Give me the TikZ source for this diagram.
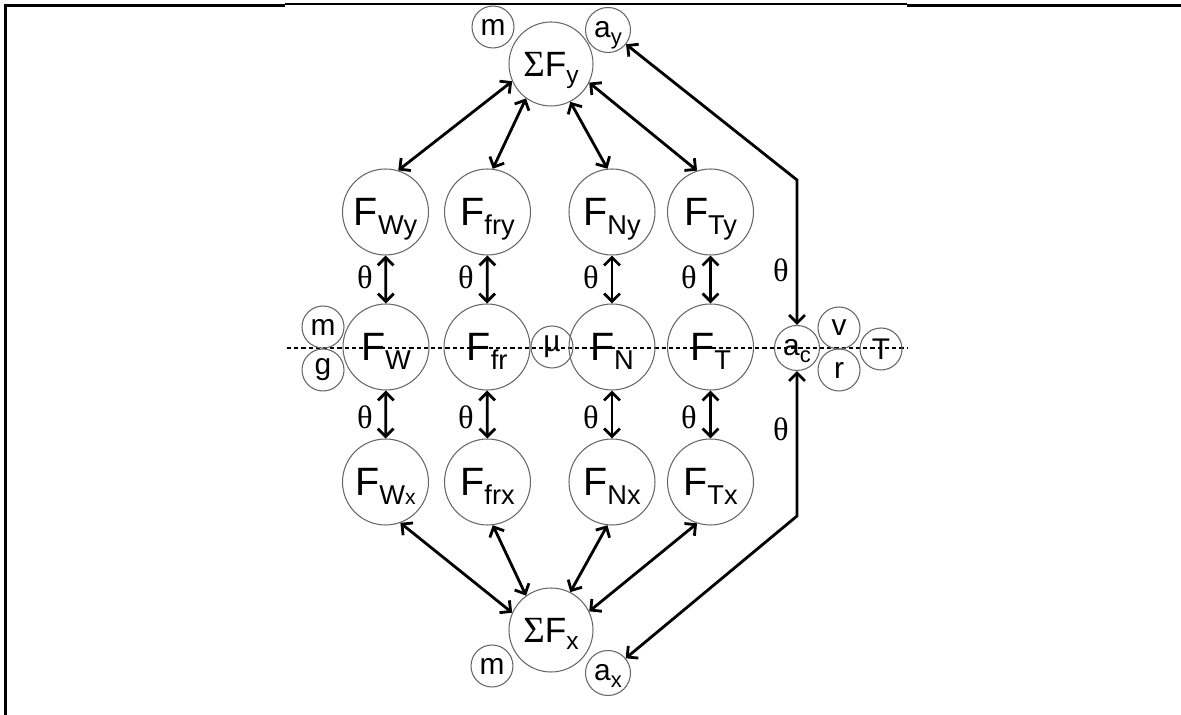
\documentclass[tikz,border=0pt]{standalone}
\usepackage{fontspec}
\setmainfont{Liberation Sans}
\newfontfamily\serifgr{Liberation Serif}
\usetikzlibrary{arrows.meta}

\newcommand\bigF[1]{F\smash{\raisebox{-5pt}{\fontsize{15.5}{16}\selectfont #1}}}
\newcommand\sumF[1]{{\serifgr\fontsize{21}{22}\selectfont Σ}F\smash{\raisebox{-4pt}{\fontsize{14}{14}\selectfont #1}}}
\newcommand\acc[1]{a\smash{\raisebox{-4pt}{\fontsize{12.5}{13}\selectfont #1}}}

\tikzset{
  force/.style={circle,draw=black!60,line width=0.6pt,inner sep=0pt,
    minimum size=1.72cm,font=\fontsize{22.5}{24}\selectfont},
  sumnode/.style={force,minimum size=1.68cm,font=\fontsize{20}{22}\selectfont},
  var/.style={circle,draw=black!60,line width=0.6pt,inner sep=0pt,
    minimum size=0.84cm,font=\fontsize{17}{17}\selectfont},
  accnode/.style={var,minimum size=0.9cm},
  link/.style={line width=1.6pt,{Straight Barb[length=4.5pt,width=9pt]}-{Straight Barb[length=4.5pt,width=9pt]}},
  ang/.style={font=\serifgr\fontsize{18.5}{18}\selectfont,inner sep=0pt}
}

\begin{document}
\begin{tikzpicture}[x=0.02cm,y=-0.02cm]
  \useasboundingbox (0,0) rectangle (1181,715);
  \draw[line width=1.7pt] (5.5,4) -- (5.5,715);
  \draw[line width=1.7pt] (4,5.5) -- (285,5.5);
  \draw[line width=0.6pt] (285,4) -- (907,4);
  \draw[line width=1.7pt] (907,5.5) -- (1181,5.5);
  \draw[dashed,line width=0.6pt,dash pattern=on 2.4pt off 1.7pt] (287,348) -- (907,348);

  \node[sumnode] (sfy) at (551,64) {\sumF{y}};
  \node[var] (my) at (493,27) {m};
  \node[accnode] (ay) at (608,30) {\acc{y}};

  \node[force] (fwy) at (385.5,212) {\bigF{Wy}};
  \node[force] (ffry) at (487.5,212) {\bigF{fry}};
  \node[force] (fny) at (612,212) {\bigF{Ny}};
  \node[force] (fty) at (710.5,212) {\bigF{Ty}};

  \node[force] (fw) at (386,347) {\bigF{W}};
  \node[var] (mw) at (323,327) {m};
  \node[var] (gw) at (323,370) {g};
  \node[force] (ffr) at (487,347) {\bigF{fr}};
  \node[var] (mu) at (552,347) {µ};
  \node[force] (fn) at (612,347) {\bigF{N}};
  \node[force] (ft) at (710.5,347) {\bigF{T}};
  \node[accnode] (ac) at (797,348) {\acc{c}};
  \node[var] (vel) at (839,328) {v};
  \node[var] (rad) at (839,370) {r};
  \node[var] (per) at (881,349) {T};

  \node[force] (fwx) at (385.5,482) {\bigF{W\fontsize{12}{12}\selectfont x}};
  \node[force] (ffrx) at (487.5,482) {\bigF{frx}};
  \node[force] (fnx) at (612,482) {\bigF{Nx}};
  \node[force] (ftx) at (710.5,482) {\bigF{Tx}};

  \node[sumnode] (sfx) at (551,630) {\sumF{x}};
  \node[var] (mx) at (492,666) {m};
  \node[accnode] (ax) at (608,673) {\acc{x}};

  \coordinate (bendy) at (797,180);
  \coordinate (bendx) at (797,516);

  \draw[link] (sfy.204) -- (fwy.73);
  \draw[link] (sfy.234) -- (ffry.83);
  \draw[link] (sfy.297) -- (fny.96);
  \draw[link] (sfy.334) -- (fty.108);
  \draw[link] (ay) -- (bendy) -- (ac);

  \draw[link] (fwy) -- (fw);
  \draw[link] (ffry) -- (ffr);
  \draw[link] (fny) -- (fn);
  \draw[link] (fty) -- (ft);
  \draw[link] (fw) -- (fwx);
  \draw[link] (ffr) -- (ffrx);
  \draw[link] (fn) -- (fnx);
  \draw[link] (ft) -- (ftx);

  \draw[link] (fwx.-70) -- (sfx.156);
  \draw[link] (ffrx.-83) -- (sfx.126);
  \draw[link] (fnx.-96) -- (sfx.63);
  \draw[link] (ftx.-108) -- (sfx.26);
  \draw[link] (ac) -- (bendx) -- (ax);

  \node[ang] (th1) at (365,277) {θ};
  \node[ang] (th2) at (466,277) {θ};
  \node[ang] (th3) at (591,277) {θ};
  \node[ang] (th4) at (689,277) {θ};
  \node[ang] (th5) at (781,270) {θ};
  \node[ang] (th6) at (365,417) {θ};
  \node[ang] (th7) at (466,417) {θ};
  \node[ang] (th8) at (591,417) {θ};
  \node[ang] (th9) at (689,417) {θ};
  \node[ang] (th10) at (781,429) {θ};
\end{tikzpicture}
\end{document}
